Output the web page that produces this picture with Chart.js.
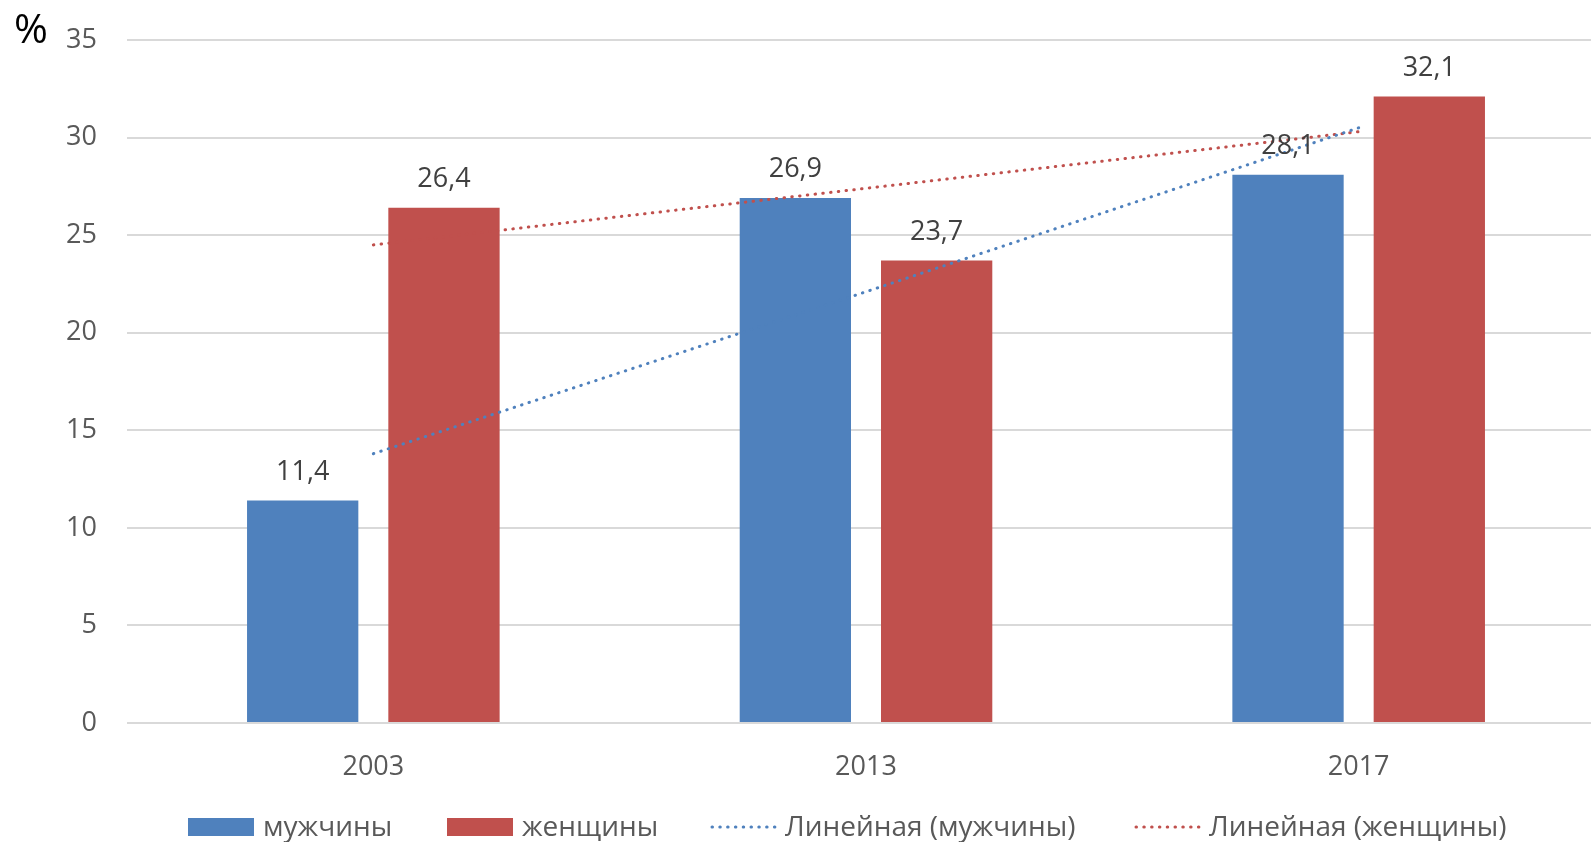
<!DOCTYPE html>
<html>
<head>
<meta charset="utf-8">
<script src="https://cdn.jsdelivr.net/npm/chart.js@4.4.1/dist/chart.umd.min.js"></script>
<style>
  html, body { margin: 0; padding: 0; background: #ffffff; overflow: hidden; }
  /* the plot runs slightly past the right edge of the frame */
  #wrap { position: relative; width: 1591px; height: 842px; overflow: hidden; }
  canvas { display: block; }
</style>
</head>
<body>
<div id="wrap"><canvas id="chart" width="1605" height="842"></canvas></div>
<script>
// Categories and series
const years = ['2003', '2013', '2017'];
const men = [11.4, 26.9, 28.1];
const women = [26.4, 23.7, 32.1];
// Linear trend lines through the category centres
const menTrend = [13.8, 22.1, 30.5];
const womenTrend = [24.5, 27.4, 30.3];
// Series names shown in the legend
const seriesNames = ['мужчины', 'женщины', 'Линейная (мужчины)', 'Линейная (женщины)'];
// Value axis
const yMin = 0;
const yMax = 35;
const yStep = 5;
const unitLabel = '%';

const FONT = '"Open Sans", "Noto Sans", sans-serif';
const BLUE = '#4f81bd';
const RED = '#c0504d';
const AXIS_TEXT = '#595959';
const LABEL_TEXT = '#404040';
const DOTS = [0.5, 7.3];

const fmt = v => v.toFixed(1).replace('.', ',');

// Value labels above each bar
const valueLabels = {
  id: 'valueLabels',
  afterDatasetsDraw(chart) {
    const ctx = chart.ctx;
    ctx.save();
    ctx.font = '27px ' + FONT;
    ctx.fillStyle = LABEL_TEXT;
    ctx.textAlign = 'center';
    ctx.textBaseline = 'middle';
    chart.data.datasets.forEach((ds, i) => {
      if (ds.type !== 'bar') return;
      chart.getDatasetMeta(i).data.forEach((bar, j) => {
        ctx.fillText(fmt(ds.data[j]), bar.x, bar.y - 28.5);
      });
    });
    ctx.restore();
  }
};

// Unit sign and bottom legend
const extras = {
  id: 'extras',
  afterDraw(chart) {
    const ctx = chart.ctx;
    ctx.save();
    ctx.font = '41px ' + FONT;
    ctx.fillStyle = '#000000';
    ctx.textAlign = 'left';
    ctx.textBaseline = 'alphabetic';
    ctx.fillText(unitLabel, 14, 43);

    const itemX = [188, 447, 710, 1134];
    const cy = 827;
    ctx.font = '28px ' + FONT;
    chart.data.datasets.forEach((ds, i) => {
      const x = itemX[i];
      if (ds.type === 'bar') {
        ctx.fillStyle = ds.backgroundColor;
        ctx.fillRect(x, cy - 9, 66, 18);
      } else {
        ctx.strokeStyle = ds.borderColor;
        ctx.lineWidth = 3;
        ctx.lineCap = 'round';
        ctx.setLineDash(DOTS);
        ctx.beginPath();
        ctx.moveTo(x + 2, cy);
        ctx.lineTo(x + 66, cy);
        ctx.stroke();
        ctx.setLineDash([]);
      }
      ctx.fillStyle = AXIS_TEXT;
      ctx.textBaseline = 'middle';
      ctx.fillText(ds.label, x + 75, cy + 1);
    });
    ctx.restore();
  }
};

new Chart(document.getElementById('chart'), {
  data: {
    labels: years,
    datasets: [
      { type: 'bar', label: seriesNames[0], data: men, backgroundColor: BLUE, order: 1,
        categoryPercentage: 0.5736, barPercentage: 0.7877 },
      { type: 'bar', label: seriesNames[1], data: women, backgroundColor: RED, order: 1,
        categoryPercentage: 0.5736, barPercentage: 0.7877 },
      { type: 'line', label: seriesNames[2], data: menTrend, borderColor: BLUE, borderWidth: 3,
        borderDash: DOTS, borderCapStyle: 'round', pointRadius: 0, fill: false, tension: 0, order: 0 },
      { type: 'line', label: seriesNames[3], data: womenTrend, borderColor: RED, borderWidth: 3,
        borderDash: DOTS, borderCapStyle: 'round', pointRadius: 0, fill: false, tension: 0, order: 0 }
    ]
  },
  options: {
    responsive: false,
    animation: false,
    devicePixelRatio: 1,
    layout: { padding: { top: 40, right: 0, bottom: 0, left: 0 } },
    plugins: { legend: { display: false }, tooltip: { enabled: false } },
    scales: {
      x: {
        grid: { display: false, drawTicks: false },
        border: { display: false },
        ticks: { color: AXIS_TEXT, font: { family: FONT, size: 27 }, padding: 28 },
        afterFit(scale) { scale.height = 119; scale.paddingLeft = 0; scale.paddingRight = 0; }
      },
      y: {
        min: yMin,
        max: yMax,
        ticks: { stepSize: yStep, color: AXIS_TEXT, font: { family: FONT, size: 27 }, padding: 30 },
        grid: { color: '#d9d9d9', lineWidth: 2, drawTicks: false },
        border: { display: false },
        afterFit(scale) { scale.width = 127; scale.paddingTop = 0; scale.paddingBottom = 0; }
      }
    }
  },
  plugins: [valueLabels, extras]
});
</script>
</body>
</html>
